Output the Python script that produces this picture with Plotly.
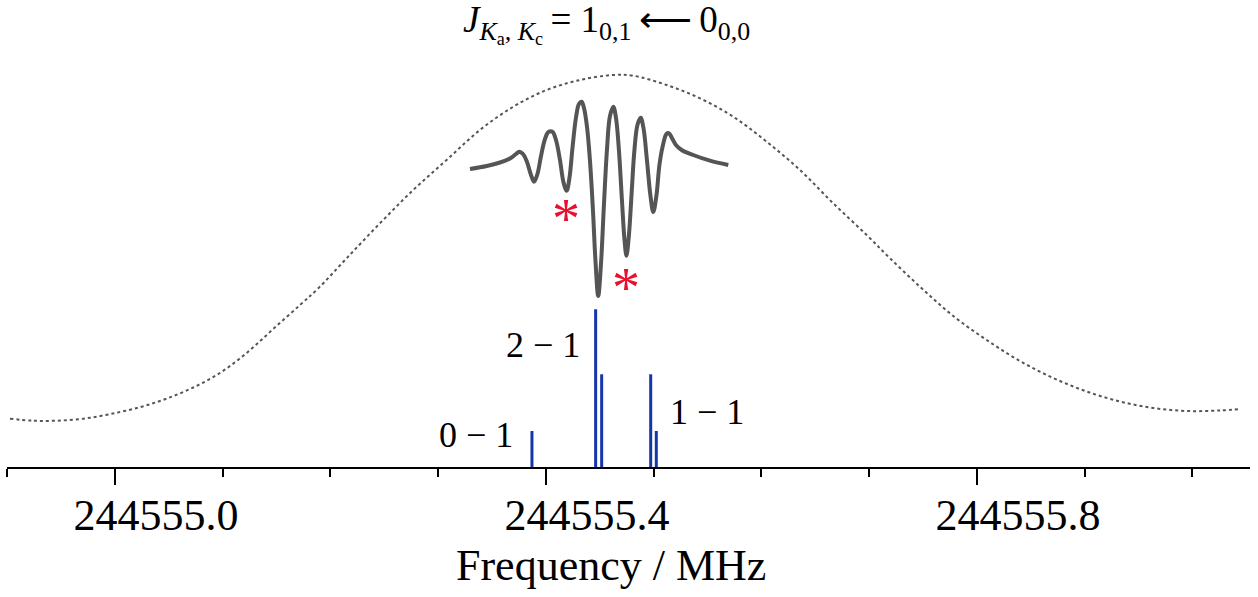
import plotly.graph_objects as go

BASE_MHZ = 244555.0

# Dotted envelope curve (offset from 244555 MHz, arbitrary intensity)
env_off = [-0.0974, -0.0758, -0.0541, -0.0294, -0.0046, 0.0232, 0.0480, 0.0727, 0.0974,
           0.1222, 0.1469, 0.1717, 0.1887, 0.2150, 0.2459, 0.2768, 0.3078, 0.3387, 0.3697,
           0.4006, 0.4316, 0.4625, 0.4810, 0.5120, 0.5429, 0.5738, 0.6048, 0.6357, 0.6666,
           0.6976, 0.7193, 0.7487, 0.7780, 0.8090, 0.8399, 0.8708, 0.9018, 0.9327, 0.9636,
           0.9946, 1.0255, 1.0441]
env_int = [0.483, 0.463, 0.463, 0.483, 0.529, 0.598, 0.684, 0.795, 0.940,
           1.140, 1.380, 1.620, 1.787, 2.087, 2.437, 2.770, 3.070, 3.370, 3.603,
           3.770, 3.870, 3.920, 3.913, 3.820, 3.687, 3.503, 3.253, 2.970, 2.637,
           2.320, 2.087, 1.787, 1.510, 1.270, 1.060, 0.890, 0.755, 0.655, 0.590,
           0.560, 0.565, 0.580]

# Measured spectrum trace
spec_off = [0.3295, 0.3450, 0.3573, 0.3666, 0.3722, 0.3752, 0.3787, 0.3824, 0.3861, 0.3889,
            0.3921, 0.3954, 0.3991, 0.4023, 0.4060, 0.4093, 0.4130, 0.4162, 0.4192, 0.4218,
            0.4246, 0.4278, 0.4306, 0.4331, 0.4353, 0.4381, 0.4408, 0.4436, 0.4459, 0.4485,
            0.4510, 0.4538, 0.4566, 0.4594, 0.4625, 0.4650, 0.4677, 0.4705, 0.4729, 0.4747,
            0.4770, 0.4794, 0.4821, 0.4849, 0.4879, 0.4905, 0.4937, 0.4970, 0.4996, 0.5026,
            0.5053, 0.5086, 0.5118, 0.5142, 0.5169, 0.5206, 0.5259, 0.5367, 0.5522, 0.5692]
spec_int = [2.98, 3.01, 3.045, 3.085, 3.13, 3.153, 3.13, 3.05, 2.92, 2.853,
            2.93, 3.11, 3.28, 3.35, 3.353, 3.27, 3.07, 2.85, 2.763, 2.89,
            3.19, 3.49, 3.63, 3.653, 3.59, 3.40, 3.07, 2.57, 2.07, 1.71,
            2.02, 2.62, 3.17, 3.51, 3.603, 3.49, 3.17, 2.67, 2.27, 2.113,
            2.32, 2.72, 3.17, 3.42, 3.493, 3.39, 3.07, 2.71, 2.55, 2.72,
            3.02, 3.22, 3.33, 3.337, 3.29, 3.22, 3.17, 3.12, 3.063, 3.02]

# Hyperfine stick spectrum
stick_off = [0.3870, 0.4461, 0.4517, 0.4972, 0.5024]
stick_int = [0.36, 1.577, 0.927, 0.927, 0.36]

# Stick group labels
label_text = ["0 \u2212 1", "2 \u2212 1", "1 \u2212 1"]
label_off = [0.3346, 0.3972, 0.5499]
label_int = [0.32, 1.22, 0.55]

# Asterisk marks
star_off = [0.4186, 0.4742]
star_int = [2.587, 1.903]

tick_vals = [244555.0, 244555.4, 244555.8]
tick_text = ["244555.0", "244555.4", "244555.8"]

FONT = "Liberation Serif"

env_x = [BASE_MHZ + v for v in env_off]
spec_x = [BASE_MHZ + v for v in spec_off]
sx, sy = [], []
for o, h in zip(stick_off, stick_int):
    sx += [BASE_MHZ + o, BASE_MHZ + o, None]
    sy += [0, h, None]

fig = go.Figure()
fig.add_trace(go.Scatter(x=env_x, y=env_int, mode="lines",
                         line=dict(color="#555555", width=2, dash="dot", shape="spline"), hoverinfo="skip"))
fig.add_trace(go.Scatter(x=spec_x, y=spec_int, mode="lines",
                         line=dict(color="#555555", width=4, shape="spline", smoothing=1.0), hoverinfo="skip"))
fig.add_trace(go.Scatter(x=sx, y=sy, mode="lines", line=dict(color="#1536a8", width=3), hoverinfo="skip"))

for t, o, v in zip(label_text, label_off, label_int):
    fig.add_annotation(x=BASE_MHZ + o, y=v, text=t, showarrow=False, xanchor="center", yanchor="middle",
                       font=dict(family=FONT, size=36, color="black"))
for o, v in zip(star_off, star_int):
    fig.add_annotation(x=BASE_MHZ + o, y=v, text="*", showarrow=False, xanchor="center", yanchor="middle",
                       yshift=-11, font=dict(family=FONT, size=56, color="#e8102e"))

title_html = ("<i>J</i><sub><i>K</i><sub>a</sub><i>, K</i><sub>c</sub></sub>\u2009= 1<sub>0,1</sub>"
              "\u2009\u27f5\u20090<sub>0,0</sub>")
fig.add_annotation(xref="paper", yref="paper", x=(606 - 7) / 1243, y=1, yshift=16, text=title_html,
                   showarrow=False, xanchor="center", yanchor="bottom",
                   font=dict(family=FONT, size=37, color="black"))

fig.add_annotation(xref="paper", yref="paper", x=(611 - 7) / 1243, y=0, yshift=-72,
                   text="Frequency / MHz", showarrow=False, xanchor="center", yanchor="top",
                   font=dict(family=FONT, size=44, color="black"))

fig.update_layout(
    width=1258, height=597,
    margin=dict(l=7, r=8, t=67, b=130),
    paper_bgcolor="white", plot_bgcolor="white",
    showlegend=False,
    font=dict(family=FONT, color="black"),
    xaxis=dict(range=[244554.8998, 244556.0534], showgrid=False, zeroline=False, automargin=False,
               showline=True, linecolor="black", linewidth=2,
               ticks="outside", ticklen=16, tickwidth=1.5, tickcolor="black",
               tickvals=tick_vals, ticktext=tick_text,
               ticklabelshift=41, ticklabelstandoff=-8,
               tickfont=dict(family=FONT, size=44, color="black"),
               minor=dict(ticks="outside", ticklen=8, tickwidth=1.5, tickcolor="black",
                          dtick=0.1, tick0=244555.0)),
    yaxis=dict(range=[0, 4.0], visible=False, showgrid=False, zeroline=False, automargin=False),
)

fig.write_html("out.html", config={"displayModeBar": False},
               post_script="document.body.style.margin='0px';")
